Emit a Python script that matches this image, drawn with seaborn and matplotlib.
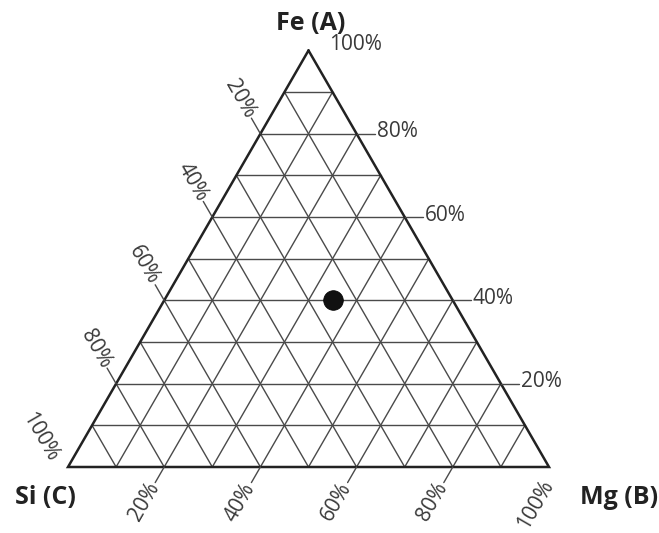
import numpy as np
import pandas as pd
import matplotlib
matplotlib.use("Agg")
import matplotlib.pyplot as plt
import seaborn as sns

# ternary data (fractions, A = Fe, B = Mg, C = Si)
sample_fe = [0.40]
sample_mg = [0.35]
sample_si = [0.25]
grid_steps = [i / 10 for i in range(1, 10)]
tick_vals = [0.2, 0.4, 0.6, 0.8, 1.0]
tick_labels = ["20%", "40%", "60%", "80%", "100%"]
apex_names = ["Fe (A)", "Mg (B)", "Si (C)"]

sns.set_style("white")
plt.rcParams['font.family'] = ['Open Sans', 'DejaVu Sans']

H = np.sqrt(3) / 2


def tern(a, b, c):
    # a at top, b bottom-right, c bottom-left
    s = a + b + c
    return b / s + 0.5 * a / s, H * a / s


fig = plt.figure(figsize=(6.59, 5.33), dpi=100)
ax = fig.add_axes([0, 0, 1, 1])
ax.set_xlim(-68 / 481, (659 - 68) / 481)
ax.set_ylim(-(533 - 467) / 481, 467 / 481)
ax.set_aspect("equal")
ax.axis("off")

grid_col = "#4a4a4a"
edge_col = "#222222"
txt_col = "#3a3a3a"
apex_col = "#222222"

# grid lines
for t in grid_steps:
    # constant A (horizontal)
    x0, y0 = tern(t, 0, 1 - t)
    x1, y1 = tern(t, 1 - t, 0)
    ax.plot([x0, x1], [y0, y1], color=grid_col, lw=1.0)
    # constant B
    x0, y0 = tern(0, t, 1 - t)
    x1, y1 = tern(1 - t, t, 0)
    ax.plot([x0, x1], [y0, y1], color=grid_col, lw=1.0)
    # constant C
    x0, y0 = tern(0, 1 - t, t)
    x1, y1 = tern(1 - t, 0, t)
    ax.plot([x0, x1], [y0, y1], color=grid_col, lw=1.0)

# outline
tri = [tern(1, 0, 0), tern(0, 1, 0), tern(0, 0, 1), tern(1, 0, 0)]
ax.plot([p[0] for p in tri], [p[1] for p in tri], color=edge_col, lw=1.8,
        solid_joinstyle="miter")

px = 1 / 481
L = 18 * px
g = 2 * px
fs = 15

# Fe ticks on right edge
for v, lab in zip(tick_vals, tick_labels):
    x, y = tern(v, 1 - v, 0)
    if v < 1:
        ax.plot([x, x + L], [y, y], color=grid_col, lw=1.0)
        ax.text(x + L + g, y + 2 * px, lab, ha="left", va="center",
                fontsize=fs, color=txt_col)
    else:
        ax.text(x + 21 * px, y + 6 * px, lab, ha="left", va="center",
                fontsize=fs, color=txt_col)

# Si ticks on left edge
dl = np.array([-0.5, H])
for v, lab in zip(tick_vals, tick_labels):
    x, y = tern(1 - v, 0, v)
    if v < 1:
        ex, ey = x + dl[0] * L, y + dl[1] * L
        ax.plot([x, ex], [y, ey], color=grid_col, lw=1.0)
        ax.text(ex + dl[0] * g, ey + dl[1] * g, lab, ha="right", va="center",
                rotation=-60, rotation_mode="anchor", fontsize=fs, color=txt_col)
    else:
        ax.text(x - 28 * px, y + 30 * px, lab, ha="center", va="center",
                rotation=-60, fontsize=fs, color=txt_col)

# Mg ticks on bottom edge
db = np.array([-0.5, -H])
for v, lab in zip(tick_vals, tick_labels):
    x, y = tern(0, v, 1 - v)
    if v < 1:
        ex, ey = x + db[0] * L, y + db[1] * L
        ax.plot([x, ex], [y, ey], color=grid_col, lw=1.0)
        ax.text(ex + db[0] * g, ey + db[1] * g, lab, ha="right", va="center",
                rotation=60, rotation_mode="anchor", fontsize=fs, color=txt_col)
    else:
        ax.text(x - 13 * px, y - 37 * px, lab, ha="center", va="center",
                rotation=60, fontsize=fs, color=txt_col)

# apex names
xa, ya = tern(1, 0, 0)
ax.text(xa + 2 * px, ya + 27 * px, apex_names[0], ha="center", va="center",
        fontsize=18, fontweight="bold", color=apex_col)
xb, yb = tern(0, 1, 0)
ax.text(xb + 70 * px, yb - 30 * px, apex_names[1], ha="center", va="center",
        fontsize=18, fontweight="bold", color=apex_col)
xc, yc = tern(0, 0, 1)
ax.text(xc - 23 * px, yc - 30 * px, apex_names[2], ha="center", va="center",
        fontsize=18, fontweight="bold", color=apex_col)

# sample point
xs, ys = zip(*[tern(a, b, c) for a, b, c in zip(sample_fe, sample_mg, sample_si)])
pts = pd.DataFrame({"x": xs, "y": ys})
sns.scatterplot(data=pts, x="x", y="y", ax=ax, s=200, color="#111111",
                edgecolor="#000000", linewidth=0.5, zorder=5)

fig.savefig("out.png", dpi=100)
